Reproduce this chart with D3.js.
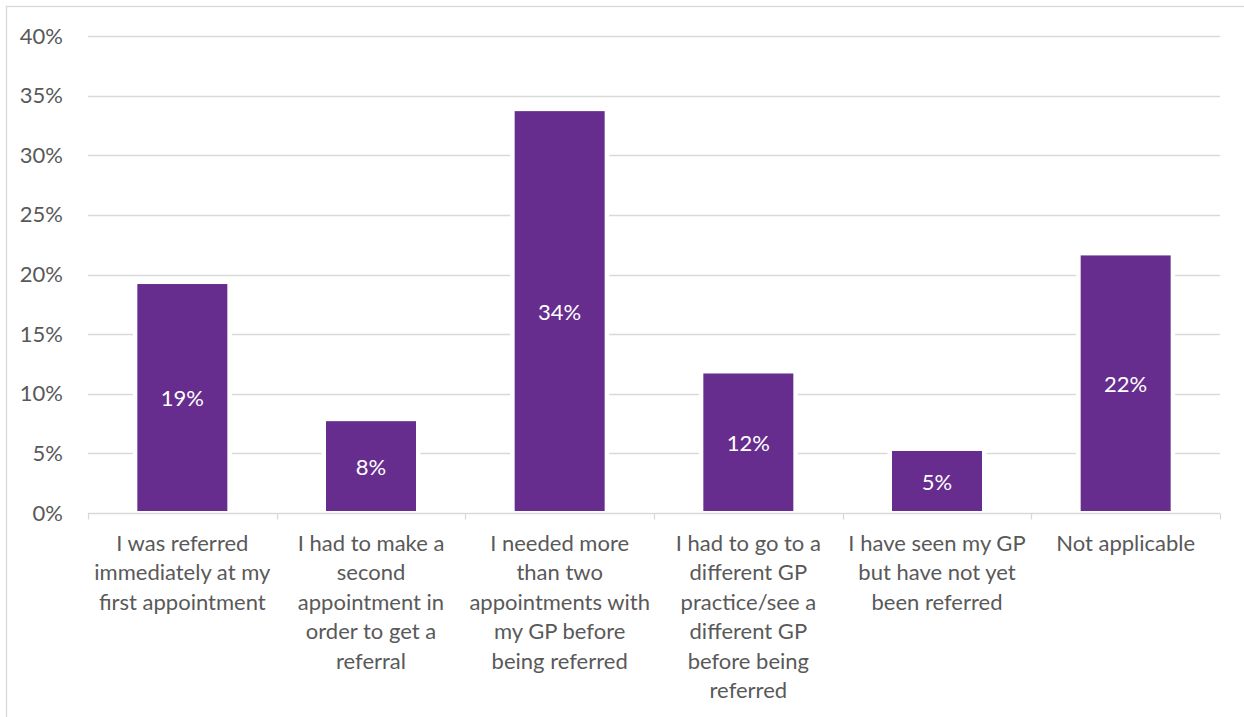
<!DOCTYPE html>
<html>
<head>
<meta charset="utf-8">
<script src="https://cdn.jsdelivr.net/npm/d3@7/dist/d3.min.js"></script>
<style>
  html, body { margin: 0; padding: 0; background: #fff; }
  svg { display: block; font-family: Lato, "Open Sans", sans-serif; }
</style>
</head>
<body>
<svg id="chart" width="1244" height="717"></svg>
<script>
// Survey answers (category labels, line breaks marked with \n)
const categories = [
  "I was referred\nimmediately at my\nfirst appointment",
  "I had to make a\nsecond\nappointment in\norder to get a\nreferral",
  "I needed more\nthan two\nappointments with\nmy GP before\nbeing referred",
  "I had to go to a\ndifferent GP\npractice/see a\ndifferent GP\nbefore being\nreferred",
  "I have seen my GP\nbut have not yet\nbeen referred",
  "Not applicable"
];
// Share of respondents, percent
const values = [19.2, 7.7, 33.7, 11.7, 5.2, 21.6];
// Y axis ticks, percent
const yTicks = [0, 5, 10, 15, 20, 25, 30, 35, 40];

const svg = d3.select("#chart");
const margin = { left: 88, right: 24, top: 36, bottom: 204 };
const W = 1244, H = 717;
const FONT = "22px";

// Chart frame
svg.append("rect")
  .attr("x", 6.5).attr("y", 6.5)
  .attr("width", W + 20).attr("height", H + 20)
  .attr("fill", "#fff").attr("stroke", "#d9d9d9").attr("stroke-width", 1.3);

const x = d3.scaleBand()
  .domain(categories)
  .range([margin.left, W - margin.right])
  .paddingInner(0.523)
  .paddingOuter(0.2615);

const y = d3.scaleLinear()
  .domain([0, 40])
  .range([H - margin.bottom, margin.top]);

// Horizontal gridlines
svg.append("g")
  .selectAll("line")
  .data(yTicks.filter(d => d > 0))
  .join("line")
  .attr("x1", margin.left).attr("x2", W - margin.right)
  .attr("y1", d => Math.round(y(d)) + 0.5).attr("y2", d => Math.round(y(d)) + 0.5)
  .attr("stroke", "#d9d9d9").attr("stroke-width", 1.3);

// Y axis labels
const yAxis = d3.axisLeft(y).tickValues(yTicks).tickFormat(d => d + "%").tickSize(0).tickPadding(25);
const gy = svg.append("g").attr("transform", `translate(${margin.left},0)`).call(yAxis);
gy.select(".domain").remove();
gy.selectAll("text")
  .attr("fill", "#595959")
  .style("font-size", FONT)
  .style("font-family", "Lato, 'Open Sans', sans-serif");

// Bars with a white halo
const bars = svg.append("g");
bars.selectAll("rect.halo")
  .data(values)
  .join("rect")
  .attr("class", "halo")
  .attr("x", (d, i) => x(categories[i]) - 4.5)
  .attr("width", x.bandwidth() + 9)
  .attr("y", d => y(d) - 1)
  .attr("height", d => y(0) - y(d))
  .attr("fill", "#fff");
bars.selectAll("rect.bar")
  .data(values)
  .join("rect")
  .attr("class", "bar")
  .attr("x", (d, i) => x(categories[i]))
  .attr("width", x.bandwidth())
  .attr("y", d => y(d))
  .attr("height", d => y(0) - y(d) - 2)
  .attr("fill", "#662d8f");

// X axis line with category separators
const step = x.step();
const ax = svg.append("g");
const y0 = Math.round(y(0)) + 0.5;
ax.append("line")
  .attr("x1", margin.left).attr("x2", W - margin.right)
  .attr("y1", y0).attr("y2", y0)
  .attr("stroke", "#d9d9d9").attr("stroke-width", 1.3);
ax.selectAll("line.tick")
  .data(d3.range(categories.length + 1))
  .join("line")
  .attr("class", "tick")
  .attr("x1", i => Math.round(margin.left + i * step) + 0.5)
  .attr("x2", i => Math.round(margin.left + i * step) + 0.5)
  .attr("y1", y0).attr("y2", y0 + 6)
  .attr("stroke", "#d9d9d9").attr("stroke-width", 1.3);

// Category labels
const lab = svg.append("g");
categories.forEach(c => {
  const cx = x(c) + x.bandwidth() / 2;
  const t = lab.append("text")
    .attr("x", cx)
    .attr("y", 551)
    .attr("text-anchor", "middle")
    .attr("fill", "#595959")
    .style("font-size", FONT);
  c.split("\n").forEach((line, k) => {
    t.append("tspan")
      .attr("x", cx)
      .attr("y", 551 + k * 29.4)
      .text(line);
  });
});

// Value labels centred in each bar
svg.append("g")
  .selectAll("text")
  .data(values)
  .join("text")
  .attr("x", (d, i) => x(categories[i]) + x.bandwidth() / 2)
  .attr("y", d => (y(d) + y(0)) / 2)
  .attr("dy", "0.35em")
  .attr("text-anchor", "middle")
  .attr("fill", "#fff")
  .style("font-size", FONT)
  .text(d => Math.round(d) + "%");
</script>
</body>
</html>
